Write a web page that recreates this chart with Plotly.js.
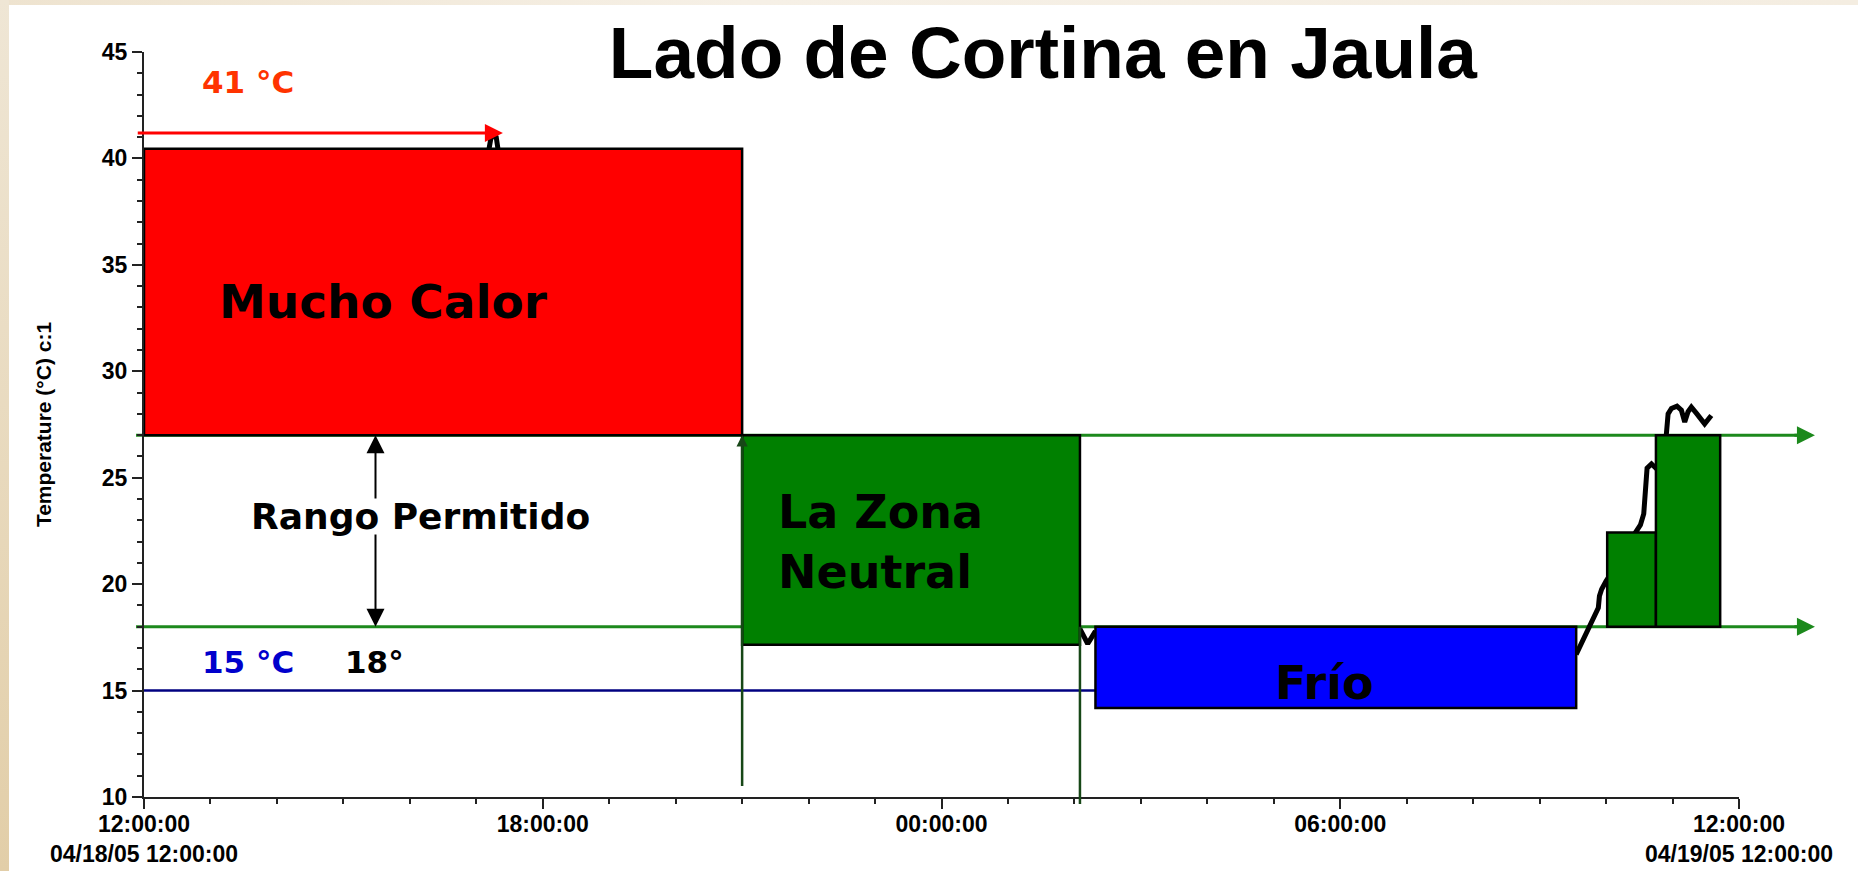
<!DOCTYPE html>
<html><head><meta charset="utf-8">
<script src="https://cdn.plot.ly/plotly-3.0.1.min.js"></script>
<style>
html,body{margin:0;padding:0;background:#fff;width:1858px;height:871px;overflow:hidden}
#bgtop{position:absolute;left:0;top:0;width:1858px;height:5px;background:linear-gradient(to right,#EEE3CF,#F6F0E6 40%,#F4EDE1)}
#bgleft{position:absolute;left:0;top:0;width:9px;height:871px;background:linear-gradient(to bottom,#EFE6D5,#E2CEA8)}
#chart{position:absolute;left:0;top:0;width:1858px;height:871px}
</style></head><body>
<div id="bgtop"></div><div id="bgleft"></div><div id="chart"></div>
<script>
// ---- Zones (rectangles) ----
const zoneNames  = ['Mucho Calor', 'La Zona Neutral', 'Frío', 'Neutral 1', 'Neutral 2'];
const zoneStart  = ['2005-04-18 12:00', '2005-04-18 21:00', '2005-04-19 02:19', '2005-04-19 10:01', '2005-04-19 10:45'];
const zoneEnd    = ['2005-04-18 21:00', '2005-04-19 02:05', '2005-04-19 09:33', '2005-04-19 10:45', '2005-04-19 11:43'];
const zoneLow    = [27, 17.15, 14.18, 18, 18];
const zoneHigh   = [40.45, 27, 18, 22.43, 27];
const zoneColor  = ['#FF0000', '#008000', '#0000FF', '#008000', '#008000'];

// ---- Reference levels (°C) ----
const limitLevels = [27, 18];
const coldLevel = 15;
const hotLevel = 41.2;

// ---- Visible pieces of the temperature trace (null = gap) ----
const tempTime = [
  '2005-04-18 17:11', '2005-04-18 17:13', '2005-04-18 17:15', '2005-04-18 17:18', '2005-04-18 17:20',
  '2005-04-19 00:00',
  '2005-04-19 02:05', '2005-04-19 02:09', '2005-04-19 02:12', '2005-04-19 02:15', '2005-04-19 02:19',
  '2005-04-19 06:00',
  '2005-04-19 09:33', '2005-04-19 09:38', '2005-04-19 09:43', '2005-04-19 09:46', '2005-04-19 09:50',
  '2005-04-19 09:53', '2005-04-19 09:54', '2005-04-19 09:56', '2005-04-19 10:00', '2005-04-19 10:02',
  '2005-04-19 10:15',
  '2005-04-19 10:25', '2005-04-19 10:28', '2005-04-19 10:31', '2005-04-19 10:34', '2005-04-19 10:35',
  '2005-04-19 10:37', '2005-04-19 10:41', '2005-04-19 10:45', '2005-04-19 10:46',
  '2005-04-19 10:50',
  '2005-04-19 10:54', '2005-04-19 10:56', '2005-04-19 10:59', '2005-04-19 11:04', '2005-04-19 11:08',
  '2005-04-19 11:11', '2005-04-19 11:14', '2005-04-19 11:17', '2005-04-19 11:22', '2005-04-19 11:29',
  '2005-04-19 11:35'
];
const tempValue = [
  40.3, 40.9, 41.1, 41.0, 40.3,
  null,
  17.9, 17.5, 17.2, 17.45, 17.8,
  null,
  16.7, 17.25, 17.8, 18.19, 18.58,
  18.89, 19.44, 19.76, 20.15, 20.3,
  null,
  22.3, 22.5, 22.78, 23.3, 24.26,
  25.45, 25.65, 25.45, 25.4,
  null,
  26.8, 28.0, 28.25, 28.36, 28.17,
  27.62, 28.1, 28.32, 28.0, 27.53,
  27.92
];

// ---- Axis ticks ----
const xTickVals = ['2005-04-18 12:00', '2005-04-18 18:00', '2005-04-19 00:00', '2005-04-19 06:00', '2005-04-19 12:00'];
const xTickText = ['12:00:00<br>04/18/05 12:00:00', '18:00:00', '00:00:00', '06:00:00', '12:00:00<br>04/19/05 12:00:00'];
const yTickVals = [10, 15, 20, 25, 30, 35, 40, 45];

const FONT = 'Liberation Sans, Arial, sans-serif';
const BIG = 'DejaVu Sans, Verdana, sans-serif';
const LINEGREEN = '#1c891c';

const shapes = [];
// reference lines (below the trace)
limitLevels.forEach(v => shapes.push({
  type: 'line', layer: 'below', xref: 'paper', yref: 'y',
  x0: -0.005, x1: 1.045, y0: v, y1: v,
  line: {color: LINEGREEN, width: 3}
}));
shapes.push({
  type: 'line', layer: 'below', xref: 'x', yref: 'y',
  x0: zoneStart[0], x1: zoneStart[2], y0: coldLevel, y1: coldLevel,
  line: {color: '#000080', width: 2.5}
});
// zone rectangles (above the trace)
zoneNames.forEach((n, i) => shapes.push({
  type: 'rect', layer: 'above', xref: 'x', yref: 'y',
  x0: zoneStart[i], x1: zoneEnd[i], y0: zoneLow[i], y1: zoneHigh[i],
  fillcolor: zoneColor[i], line: {color: '#000', width: 2.5}
}));

const ann = [];
function arrow(o) { return Object.assign({text: '', showarrow: true, xref: 'x', yref: 'y', axref: 'x', ayref: 'y', arrowhead: 2, standoff: 0}, o); }
// hot arrow
ann.push(arrow({x: '2005-04-18 17:24', y: hotLevel, ax: '2005-04-18 11:53', ay: hotLevel,
  arrowcolor: '#FF0000', arrowwidth: 3, arrowsize: 1.2}));
// green arrow heads on the right
limitLevels.forEach(v => ann.push({text: '', showarrow: true, xref: 'paper', yref: 'y', x: 1.0476, y: v,
  axref: 'pixel', ayref: 'pixel', ax: -22, ay: 0, arrowhead: 2, arrowsize: 1.2, arrowwidth: 3, arrowcolor: LINEGREEN, standoff: 0}));
// Rango permitido double arrow (split around the text)
ann.push(arrow({x: '2005-04-18 15:29', y: limitLevels[0], ax: '2005-04-18 15:29', ay: 23.95, arrowcolor: '#000', arrowwidth: 2, arrowsize: 1.8}));
ann.push(arrow({x: '2005-04-18 15:29', y: limitLevels[1], ax: '2005-04-18 15:29', ay: 22.4, arrowcolor: '#000', arrowwidth: 2, arrowsize: 1.8}));
// dark green vertical markers
ann.push(arrow({x: zoneEnd[0], y: limitLevels[0], ax: zoneEnd[0], ay: 10.45, arrowcolor: '#174717', arrowwidth: 2.5, arrowsize: 0.9}));
ann.push(arrow({x: zoneEnd[1], y: limitLevels[1], ax: zoneEnd[1], ay: 9.6, arrowcolor: '#174717', arrowwidth: 2.5, arrowhead: 0}));

// text labels
function label(text, x, y, size, color, extra) {
  return Object.assign({text: text, x: x, y: y, xref: 'x', yref: 'y', showarrow: false,
    xanchor: 'center', yanchor: 'middle', font: {family: BIG, size: size, color: color, weight: 'bold'}}, extra || {});
}
ann.push(label('Mucho Calor', '2005-04-18 15:36', 33.3, 47, '#000'));
ann.push(label('La Zona<br>Neutral', '2005-04-18 21:31', 22.0, 46, '#000', {xanchor: 'left', align: 'left'}));
ann.push(label('Frío', '2005-04-19 05:46', 15.35, 46, '#000'));
ann.push(label('Rango Permitido', '2005-04-18 16:10', 23.2, 36, '#000'));
ann.push(label('41 °C', '2005-04-18 13:34', 43.6, 31, '#FF3300'));
ann.push(label('15 °C', '2005-04-18 13:34', 16.33, 31, '#0000CC'));
ann.push(label('18°', '2005-04-18 15:28', 16.33, 31, '#000'));

const traces = [{
  type: 'scatter', mode: 'lines', x: tempTime, y: tempValue,
  connectgaps: false, line: {color: '#000', width: 5}, hoverinfo: 'skip', showlegend: false
}];

const layout = {
  width: 1858, height: 871,
  margin: {l: 144, r: 119, t: 52, b: 74, pad: 0},
  paper_bgcolor: 'rgba(0,0,0,0)', plot_bgcolor: 'rgba(0,0,0,0)',
  font: {family: FONT, color: '#000'},
  showlegend: false,
  title: {text: 'Lado de Cortina en Jaula', font: {family: FONT, size: 73, weight: 'bold', color: '#000'},
    xref: 'container', yref: 'container', x: 0.5613, y: 0.9403, xanchor: 'center', yanchor: 'middle'},
  xaxis: {
    type: 'date', range: ['2005-04-18 12:00', '2005-04-19 12:00'],
    tickmode: 'array', tickvals: xTickVals, ticktext: xTickText,
    ticks: 'outside', ticklen: 10, tickwidth: 2, tickcolor: '#222', ticklabelstandoff: -5,
    minor: {dtick: 3600000, ticks: 'outside', ticklen: 5, tickwidth: 2, tickcolor: '#222', showgrid: false},
    showline: true, linecolor: '#222', linewidth: 2, showgrid: false, zeroline: false,
    tickfont: {family: FONT, size: 23, weight: 'bold', color: '#000'}, fixedrange: true
  },
  yaxis: {
    range: [10, 45], tickmode: 'array', tickvals: yTickVals,
    ticks: 'outside', ticklen: 10, tickwidth: 2, tickcolor: '#222',
    minor: {dtick: 1, ticks: 'outside', ticklen: 5, tickwidth: 2, tickcolor: '#222', showgrid: false},
    showline: true, linecolor: '#222', linewidth: 2, showgrid: false, zeroline: false,
    tickfont: {family: FONT, size: 23, weight: 'bold', color: '#000'},
    title: {text: 'Temperature (°C) c:1', font: {family: FONT, size: 21, weight: 'bold', color: '#000'}, standoff: 44},
    fixedrange: true
  },
  shapes: shapes,
  annotations: ann
};

Plotly.newPlot('chart', traces, layout, {displayModeBar: false, staticPlot: true});
</script>
</body></html>
